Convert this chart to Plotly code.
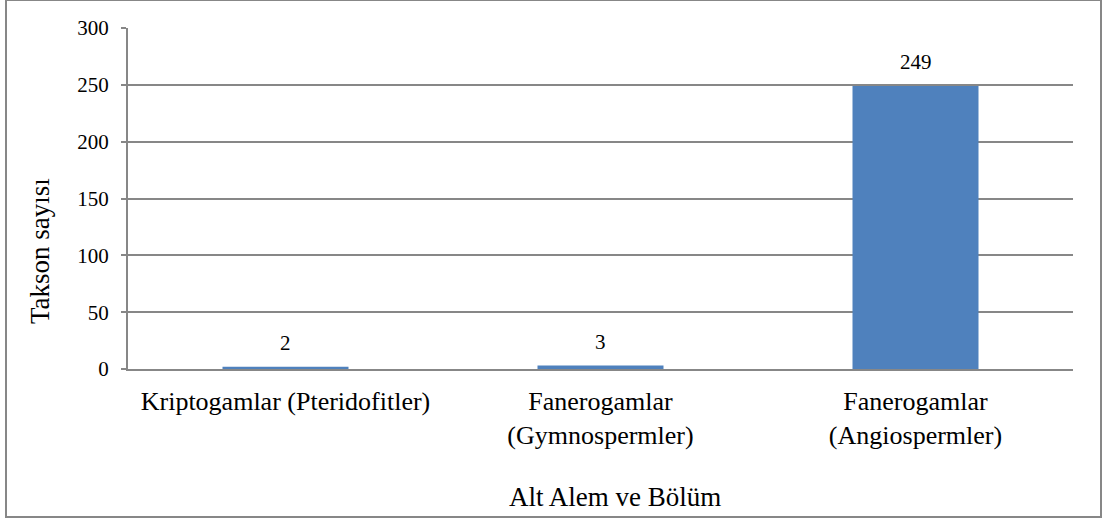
import plotly.graph_objects as go

categories = ["Kriptogamlar (Pteridofitler)", "Fanerogamlar<br>(Gymnospermler)", "Fanerogamlar<br>(Angiospermler)"]
values = [2, 3, 249]
y_ticks = [0, 50, 100, 150, 200, 250, 300]

W, H = 1103, 519
L, R, T, B = 128, 30, 28, 150
pw, ph = W - L - R, H - T - B

def px_x(x):
    return (x - L) / pw

def px_y(y):
    return (H - B - y) / ph

FONT = "'Liberation Serif', 'Times New Roman', Times, serif"
GRAY = "#878787"

fig = go.Figure()
fig.add_trace(go.Bar(
    x=categories, y=values, width=0.4,
    marker=dict(color="#4F81BD", line=dict(width=0)),
    cliponaxis=False,
))

annotations = [
    dict(text="Takson sayısı", x=px_x(40), y=px_y(251), xref="paper", yref="paper",
         textangle=-90, showarrow=False, font=dict(family=FONT, size=27, color="#000000"),
         xanchor="center", yanchor="middle"),
    dict(text="Alt Alem ve Bölüm", x=px_x(615), y=px_y(497), xref="paper", yref="paper",
         showarrow=False, font=dict(family=FONT, size=27, color="#000000"),
         xanchor="center", yanchor="middle"),
]
for c, v in zip(categories, values):
    annotations.append(dict(text=str(v), x=c, y=v, xref="x", yref="y", showarrow=False,
                            yanchor="bottom", yshift=10,
                            font=dict(family=FONT, size=21, color="#000000")))

fig.update_layout(
    width=W, height=H,
    margin=dict(l=L, r=R, t=T, b=B, autoexpand=False),
    paper_bgcolor="white", plot_bgcolor="white",
    showlegend=False,
    font=dict(family=FONT, color="#000000"),
    xaxis=dict(
        showline=True, linecolor=GRAY, linewidth=2,
        tickfont=dict(family=FONT, size=26, color="#000000"),
        ticks="", showgrid=False, ticklabelstandoff=8,
    ),
    yaxis=dict(
        range=[0, 300], tickvals=y_ticks,
        showgrid=True, gridcolor=GRAY, gridwidth=2,
        showline=True, linecolor=GRAY, linewidth=2,
        ticks="outside", ticklen=5, tickcolor=GRAY, tickwidth=2,
        tickfont=dict(family=FONT, size=21, color="#000000"),
        ticklabelstandoff=8,
        zeroline=False,
    ),
    annotations=annotations,
    shapes=[
        dict(type="rect", xref="paper", yref="paper",
             x0=px_x(6), x1=px_x(1101), y0=px_y(517), y1=px_y(0),
             line=dict(color=GRAY, width=2), fillcolor="rgba(0,0,0,0)", layer="below"),
    ],
)

fig.write_html("out.html", config={"displayModeBar": False},
               post_script="document.body.style.margin='0';document.body.style.padding='0';")
